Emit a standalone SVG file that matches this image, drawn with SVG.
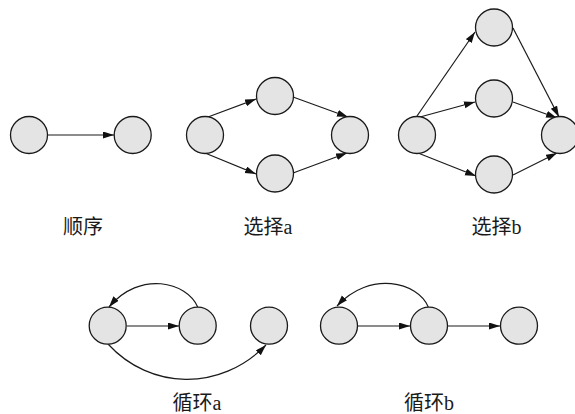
<svg xmlns="http://www.w3.org/2000/svg" width="575" height="414" viewBox="0 0 575 414">
<style>
.n{fill:#e4e4e4;stroke:#1a1a1a;stroke-width:1.3}
.e{fill:none;stroke:#1a1a1a;stroke-width:1.2;marker-end:url(#ah)}
.t{font-family:"Liberation Serif","Noto Sans CJK SC",serif;font-size:20px;fill:#1a1a1a;text-anchor:middle}
</style>
<defs>
<marker id="ah" markerUnits="userSpaceOnUse" markerWidth="12" markerHeight="8" refX="11" refY="3.5" orient="auto">
<path d="M0,0 L11,3.5 L0,7 z" fill="#111"/>
</marker>
</defs>
<rect width="575" height="414" fill="#fff"/>
<g id="connectors">
<line class="e" x1="48" y1="135" x2="114" y2="135"/>
<line class="e" x1="208" y1="117" x2="256" y2="99"/>
<line class="e" x1="205" y1="153" x2="256" y2="174"/>
<line class="e" x1="293" y1="97" x2="348" y2="117"/>
<line class="e" x1="293" y1="173" x2="347" y2="153"/>
<line class="e" x1="417" y1="116" x2="475" y2="32"/>
<line class="e" x1="420" y1="117" x2="475" y2="102"/>
<line class="e" x1="418" y1="153" x2="476" y2="176"/>
<line class="e" x1="513" y1="28" x2="559" y2="117"/>
<line class="e" x1="513" y1="102" x2="557" y2="118"/>
<line class="e" x1="513" y1="175" x2="557" y2="153"/>
<line class="e" x1="127" y1="326" x2="179" y2="326"/>
<path class="e" d="M197.7,307 C187,282 140,270 109,307"/>
<path class="e" d="M108,344 C150,390 220,392 266,345"/>
<line class="e" x1="358" y1="326" x2="410" y2="326"/>
<line class="e" x1="448" y1="326" x2="500" y2="326"/>
<path class="e" d="M428.3,307 C418,282 370,270 337,306"/>
</g>
<g id="seq1"><circle class="n" cx="29" cy="135" r="18.5"/></g>
<g id="seq2"><circle class="n" cx="132.7" cy="135" r="18.5"/></g>
<g id="sa1"><circle class="n" cx="205" cy="135" r="18.5"/></g>
<g id="sa2"><circle class="n" cx="275" cy="96" r="18.5"/></g>
<g id="sa3"><circle class="n" cx="275" cy="173.5" r="18.5"/></g>
<g id="sa4"><circle class="n" cx="350" cy="135" r="18.5"/></g>
<g id="sb1"><circle class="n" cx="417" cy="135" r="18.5"/></g>
<g id="sb2"><circle class="n" cx="494" cy="27.5" r="18.5"/></g>
<g id="sb3"><circle class="n" cx="494" cy="98.5" r="18.5"/></g>
<g id="sb4"><circle class="n" cx="494" cy="174.5" r="18.5"/></g>
<g id="sb5"><circle class="n" cx="560" cy="135" r="18.5"/></g>
<g id="la1"><circle class="n" cx="107.7" cy="325.7" r="18.5"/></g>
<g id="la2"><circle class="n" cx="197.7" cy="325.7" r="18.5"/></g>
<g id="la3"><circle class="n" cx="269" cy="325.7" r="18.5"/></g>
<g id="lb1"><circle class="n" cx="339" cy="325.7" r="18.5"/></g>
<g id="lb2"><circle class="n" cx="429" cy="325.7" r="18.5"/></g>
<g id="lb3"><circle class="n" cx="519" cy="325.7" r="18.5"/></g>
<g id="labels">
<text class="t" x="83" y="234">顺序</text>
<text class="t" x="268" y="234">选择a</text>
<text class="t" x="496.5" y="234">选择b</text>
<text class="t" x="197" y="410">循环a</text>
<text class="t" x="429" y="410">循环b</text>
</g>
</svg>
